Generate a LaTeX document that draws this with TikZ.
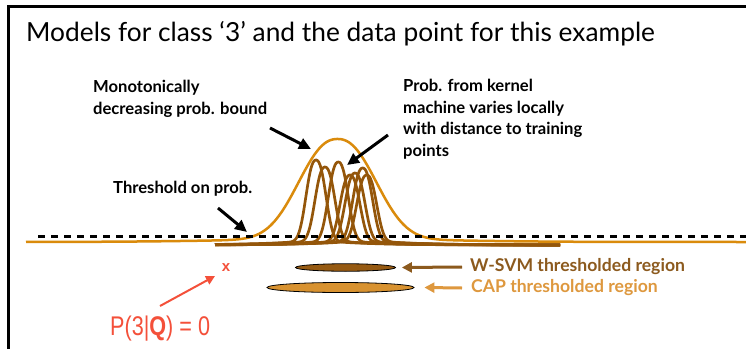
\documentclass[tikz,border=0pt]{standalone}
\usepackage{fontspec}
\setmainfont{Lato}
\newfontfamily\arialfont{Liberation Sans}
\usetikzlibrary{arrows.meta,shapes.geometric}
\definecolor{curveorange}{RGB}{218,139,12}
\definecolor{curvebrown}{RGB}{148,86,10}
\definecolor{svmfill}{RGB}{150,90,18}
\definecolor{capfill}{RGB}{216,146,48}
\definecolor{svmtext}{RGB}{140,90,30}
\definecolor{captext}{RGB}{222,152,62}
\definecolor{pred}{RGB}{244,80,58}
\tikzset{
  lbl/.style={anchor=north west, inner sep=0pt, align=left, font=\fontsize{16.6}{21.5}\selectfont\bfseries},
  blackarrow/.style={line width=3pt, -{Triangle[length=12pt,width=11pt]}},
  orangecurve/.style={curveorange, line width=2.5pt},
  browncurve/.style={curvebrown, line width=2.7pt},
  region/.style={ellipse, draw=black, line width=0.8pt, inner sep=0pt},
  reglbl/.style={anchor=west, inner sep=0pt, font=\fontsize{17.6}{20}\selectfont\bfseries},
}
\begin{document}
\begin{tikzpicture}[x=1pt,y=-1pt]
\useasboundingbox (0,0) rectangle (746,348);
\clip (0,0) rectangle (746,348);
\fill[white] (0,0) rectangle (746,348);
\draw[line width=2.5pt] (8.5,6.5) rectangle (800,400);

\node[anchor=base west, inner sep=0pt, font=\fontsize{26.3}{30}\selectfont] (title) at (26,41)
  {Models for class ‘3’ and the data point for this example};

% curves
\draw[orangecurve] plot[domain=26:746, samples=360, smooth]
  (\x, {242 - 100*exp(-(min(abs(\x-337.5)/50,5)+0.001)^2.3) - 3*exp(-((\x-337.5)/150)^2)});
\foreach \m/\a in {316/80, 325/73, 338.3/78, 350/65, 355/67, 362.7/72, 366.7/65}{
  \draw[browncurve] plot[domain=215:560, samples=300, smooth]
    (\x, {245 - \a*exp(-(min(abs(\x-\m)/12.5,4)+0.001)^2.5) - 5*exp(-abs(\x-\m)/45)});
}
\draw[line width=3pt, dash pattern=on 7pt off 6pt] (38,236) -- (746,236);

% labels
\node[lbl] (mono) at (93,80) {Monotonically\\decreasing prob. bound};
\node[lbl] (kern) at (403,79) {Prob. from kernel\\machine varies locally\\with distance to training\\points};
\node[lbl] (thr) at (113,181) {Threshold on prob.};

\coordinate (m1) at (270,128); \coordinate (m2) at (311,149);
\coordinate (k1) at (388,135); \coordinate (k2) at (347,165);
\coordinate (t1) at (218,208); \coordinate (t2) at (247,232);
\draw[blackarrow] (m1) -- (m2);
\draw[blackarrow] (k1) -- (k2);
\draw[blackarrow] (t1) -- (t2);

% regions
\node[region, fill=svmfill, minimum width=100pt, minimum height=7.5pt] (svm) at (345.5,267.5) {};
\node[region, fill=capfill, minimum width=147pt, minimum height=10pt] (cap) at (340.5,287.5) {};
\node[reglbl, text=svmtext] (svmlab) at (470,267) {W-SVM thresholded region};
\node[reglbl, text=captext] (caplab) at (471,288) {CAP thresholded region};
\draw[svmtext, line width=3pt, -{Triangle[length=10pt,width=10pt]}] ([xshift=-8pt]svmlab.west) -- ([xshift=6pt]svm.east);
\draw[captext, line width=3pt, -{Triangle[length=10pt,width=10pt]}] ([xshift=-9pt]caplab.west) -- ([xshift=10pt]cap.east);

% query point
\node[text=pred, inner sep=0pt, font=\arialfont\bfseries\fontsize{15}{15}\selectfont] (xq) at (226,268) {x};
\node[anchor=base west, inner sep=0pt, text=pred, font=\arialfont\fontsize{27}{30}\selectfont] (pq) at (110,335)
  {\scalebox{0.8}[1]{P(3|\textbf{Q}) = 0}};
\coordinate (r1) at (160,306); \coordinate (r2) at (215,276);
\draw[pred, line width=2pt, -{Triangle[length=9pt,width=9pt]}] (r1) -- (r2);
\end{tikzpicture}
\end{document}
